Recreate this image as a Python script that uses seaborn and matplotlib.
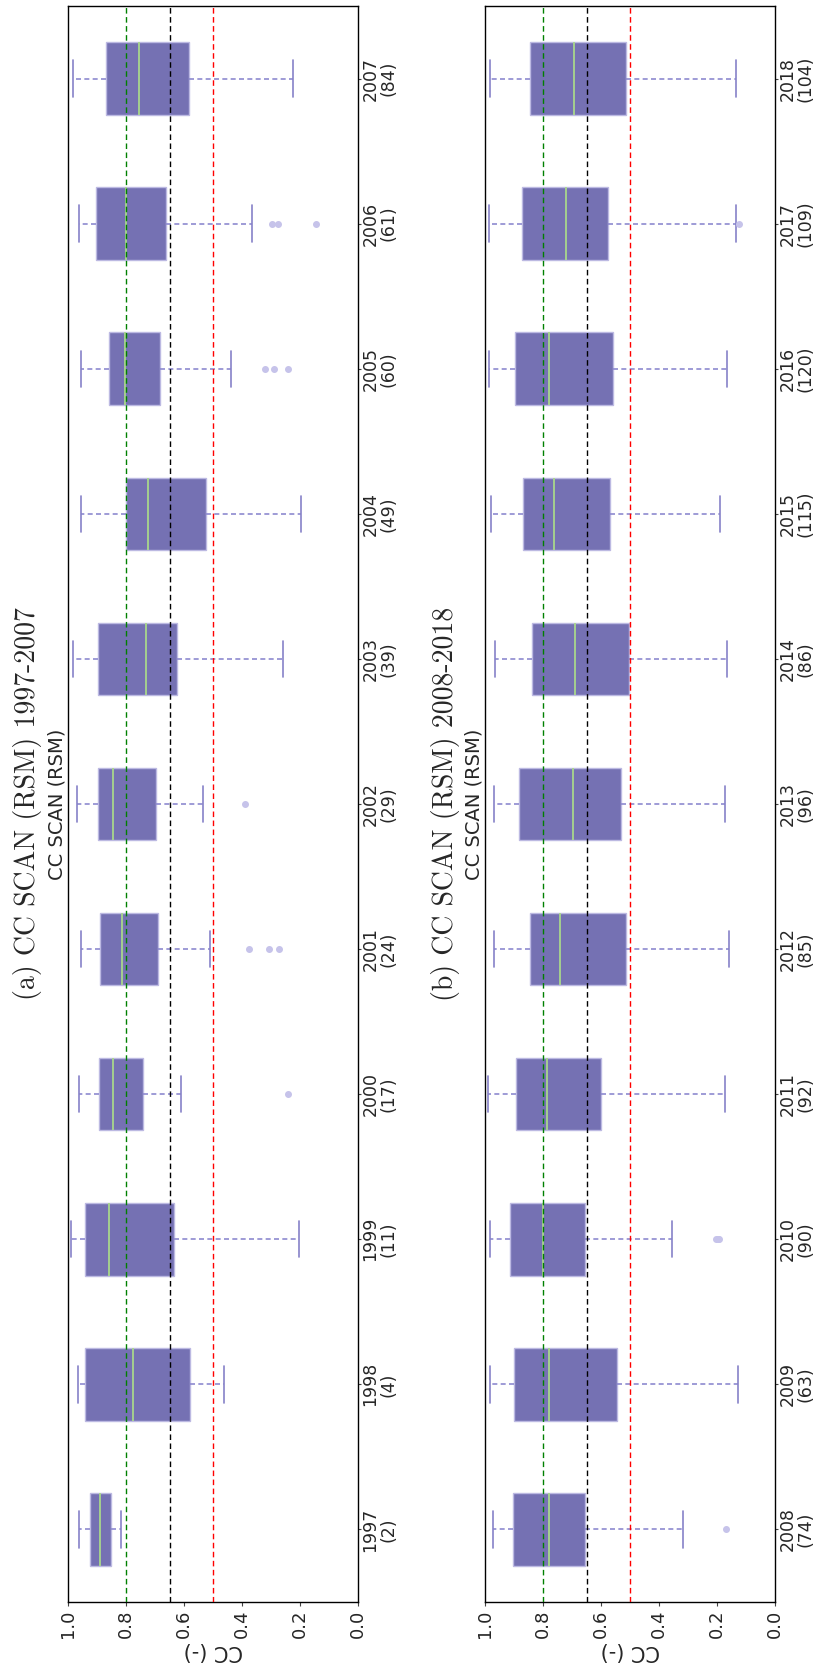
import matplotlib
matplotlib.use("Agg")
import matplotlib.pyplot as plt
import numpy as np
import pandas as pd
import seaborn as sns

# ---- Annual cloud-cover (CC) statistics, SCAN network, RSM ----
# Panel (a): 1997-2007
years_a = [1997, 1998, 1999, 2000, 2001, 2002, 2003, 2004, 2005, 2006, 2007]
counts_a = [2, 4, 11, 17, 24, 29, 39, 49, 60, 61, 84]
whislo_a = [0.817, 0.463, 0.205, 0.610, 0.510, 0.533, 0.260, 0.195, 0.438, 0.367, 0.224]
q1_a = [0.852, 0.578, 0.634, 0.743, 0.690, 0.698, 0.623, 0.524, 0.683, 0.663, 0.584]
med_a = [0.891, 0.775, 0.857, 0.844, 0.815, 0.845, 0.730, 0.724, 0.803, 0.800, 0.756]
q3_a = [0.925, 0.942, 0.940, 0.893, 0.891, 0.898, 0.897, 0.800, 0.857, 0.904, 0.868]
whishi_a = [0.961, 0.964, 0.990, 0.961, 0.955, 0.970, 0.982, 0.956, 0.954, 0.961, 0.983]
fliers_a = [[], [], [], [0.240], [0.377, 0.307, 0.271], [0.390], [], [],
            [0.322, 0.289, 0.243], [0.298, 0.275, 0.146], []]

# Panel (b): 2008-2018
years_b = [2008, 2009, 2010, 2011, 2012, 2013, 2014, 2015, 2016, 2017, 2018]
counts_b = [74, 63, 90, 92, 85, 96, 86, 115, 120, 109, 104]
whislo_b = [0.318, 0.128, 0.354, 0.174, 0.157, 0.173, 0.167, 0.188, 0.164, 0.136, 0.135]
q1_b = [0.654, 0.544, 0.654, 0.599, 0.515, 0.532, 0.502, 0.569, 0.557, 0.576, 0.514]
med_b = [0.778, 0.779, 0.800, 0.787, 0.741, 0.696, 0.690, 0.761, 0.779, 0.722, 0.692]
q3_b = [0.904, 0.899, 0.915, 0.894, 0.846, 0.883, 0.839, 0.869, 0.896, 0.872, 0.845]
whishi_b = [0.974, 0.983, 0.982, 0.991, 0.968, 0.970, 0.964, 0.981, 0.987, 0.986, 0.983]
fliers_b = [[0.170], [], [0.205, 0.198, 0.192], [], [], [], [], [], [], [0.123], []]

# Reference thresholds
ref_levels = [0.8, 0.65, 0.5]
ref_colors = ["green", "black", "red"]

x_ticks = [1.0, 0.8, 0.6, 0.4, 0.2, 0.0]


def long_table(years, lo, q1, med, q3, hi, fliers, reps=20):
    """Long-form table whose box statistics equal the given summaries."""
    rows = []
    for y, l, a, m, b, h, fl in zip(years, lo, q1, med, q3, hi, fliers):
        vals = list(fl) + [l] + [a] * reps + [m] * reps + [b] * reps + [h] * (len(fl) + 1)
        rows.extend((str(y), v) for v in vals)
    return pd.DataFrame(rows, columns=["year", "cc"])


sns.set_style("white")
plt.rcParams["font.family"] = ["DejaVu Sans"]

BOX = "#7571b3"
BOX_EDGE = "#bcb9e2"
MEDIAN = "#a9d88c"
WHISKER = "#8e8ad0"
CAP = "#8682c8"
FLIER = "#c6c3ea"

W, H = 818, 1666
fig = plt.figure(figsize=(W / 100, H / 100), dpi=100)


def px_axes(x0, x1, y0, y1):
    return fig.add_axes([x0 / W, 1 - y1 / H, (x1 - x0) / W, (y1 - y0) / H])


panels = [
    (px_axes(68, 358, 6, 1602), years_a, counts_a,
     long_table(years_a, whislo_a, q1_a, med_a, q3_a, whishi_a, fliers_a),
     "(a) CC SCAN (RSM) 1997-2007"),
    (px_axes(485, 775, 6, 1602), years_b, counts_b,
     long_table(years_b, whislo_b, q1_b, med_b, q3_b, whishi_b, fliers_b),
     "(b) CC SCAN (RSM) 2008-2018"),
]

for ax, years, counts, df, title in panels:
    order = [str(y) for y in years[::-1]]
    sns.boxplot(
        data=df, x="cc", y="year", order=order, orient="h", ax=ax,
        width=0.5, color=BOX, saturation=1, linewidth=1.0, whis=1.5,
        boxprops=dict(facecolor=BOX, edgecolor=BOX_EDGE, linewidth=1.0),
        medianprops=dict(color=MEDIAN, linewidth=1.3),
        whiskerprops=dict(color=WHISKER, linestyle=(0, (3, 2)), linewidth=1.2),
        capprops=dict(color=CAP, linewidth=1.2),
        flierprops=dict(marker="o", markerfacecolor=FLIER, markeredgecolor=FLIER,
                        markersize=4),
    )
    for lvl, col in zip(ref_levels, ref_colors):
        ax.axvline(lvl, color=col, linestyle=(0, (4, 2.5)), linewidth=1.0, zorder=5)

    ax.set_xlim(1.0, 0.0)
    ax.set_ylim(len(years) - 0.5, -0.5)
    ax.set_xticks(x_ticks)
    ax.set_xticklabels([f"{v:.1f}" for v in x_ticks])
    ax.tick_params(axis="x", labelrotation=90, labelsize=13, length=3, pad=2.5,
                   bottom=True, color="#444444")
    ax.set_xlabel("CC (-)", rotation=180, fontsize=15, labelpad=2)
    ax.set_ylabel("")

    ax.yaxis.tick_right()
    ax.set_yticks(range(len(years)))
    ax.set_yticklabels([f"{y}\n({c})" for y, c in zip(years[::-1], counts[::-1])],
                       rotation=90, fontsize=12.5, ha="left", va="center",
                       multialignment="center", linespacing=1.0)
    ax.tick_params(axis="y", length=2, pad=0.5, right=True, color="#444444")

    for sp in ax.spines.values():
        sp.set_visible(True)
        sp.set_color("black")
        sp.set_linewidth(1.0)

    # titles sit to the left of each panel, reading upwards
    pos = ax.get_position()
    cy = pos.y0 + pos.height / 2
    fig.text(pos.x0 - 11 / W, cy, "CC SCAN (RSM)", rotation=90, ha="center",
             va="center", fontsize=14)
    fig.text(pos.x0 - 40 / W, cy, title, rotation=90, ha="center", va="center",
             fontsize=20, family="cmr10")

fig.savefig("out.png", dpi=100)
